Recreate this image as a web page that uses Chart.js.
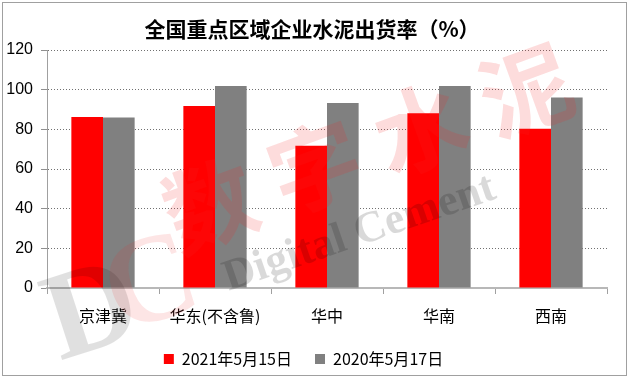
<!DOCTYPE html>
<html>
<head>
<meta charset="utf-8">
<script src="https://cdn.jsdelivr.net/npm/chart.js@4/dist/chart.umd.min.js"></script>
<style>
  html, body { margin: 0; padding: 0; background: #fff; }
  #wrap { width: 632px; height: 380px; }
</style>
</head>
<body>
<div id="wrap"><canvas id="bars" width="632" height="380"></canvas></div>
<script>
// 出货率数据 (%)
const regions = ["京津冀", "华东(不含鲁)", "华中", "华南", "西南"];
const rate2021 = [86.2, 91.8, 71.7, 88.1, 80.3];
const rate2020 = [86.0, 101.9, 93.3, 101.9, 96.0];
const seriesNames = ["2021年5月15日", "2020年5月17日"];
const yTicks = [0, 20, 40, 60, 80, 100, 120];

const cjk = "'Noto Sans CJK SC', 'Noto Sans', sans-serif";

// 标题、外框和水印
const decor = {
  id: "decor",
  beforeDraw(chart) {
    const ctx = chart.ctx;
    ctx.save();
    ctx.fillStyle = "#fff";
    ctx.fillRect(0, 0, chart.width, chart.height);
    ctx.strokeStyle = "#a0a0a0";
    ctx.lineWidth = 1;
    ctx.strokeRect(2.5, 2.5, 624, 373);
    ctx.fillStyle = "#000";
    ctx.font = "bold 21px " + cjk;
    ctx.textAlign = "center";
    ctx.textBaseline = "middle";
    ctx.fillText("全国重点区域企业水泥出货率（%）", 312, 29);
    ctx.restore();
  },
  afterDatasetsDraw(chart) {
    const ctx = chart.ctx;
    ctx.save();
    // 数字水泥
    ctx.translate(210, 205);
    ctx.rotate(-20 * Math.PI / 180);
    ctx.fillStyle = "rgba(240,40,40,0.16)";
    ctx.font = "bold 92px " + cjk;
    ctx.textAlign = "center";
    ctx.textBaseline = "middle";
    ["数", "字", "水", "泥"].forEach((c, i) => ctx.fillText(c, i * 112, 0));
    ctx.restore();

    ctx.save();
    ctx.translate(225, 280);
    ctx.rotate(-19 * Math.PI / 180);
    ctx.fillStyle = "rgba(0,0,0,0.15)";
    ctx.font = "bold 44px 'Liberation Serif', serif";
    ctx.textBaseline = "middle";
    ctx.fillText("Digital Cement", 0, 0);
    ctx.restore();

    ctx.save();
    ctx.translate(50, 330);
    ctx.rotate(-18 * Math.PI / 180);
    ctx.font = "bold 125px 'Liberation Serif', serif";
    ctx.fillStyle = "rgba(0,0,0,0.12)";
    ctx.fillText("D", 0, 0);
    ctx.fillStyle = "rgba(240,40,40,0.12)";
    ctx.fillText("C", 65, -8);
    ctx.restore();
  }
};

const barConfig = {
  type: "bar",
  data: {
    labels: regions,
    datasets: [
      {
        label: seriesNames[0],
        backgroundColor: "#ff0000",
        data: rate2021,
      },
      {
        label: seriesNames[1],
        backgroundColor: "#808080",
        data: rate2020,
      },
    ],
  },
  options: {
    responsive: false,
    animation: false,
    layout: {
      padding: { top: 50, right: 25, left: 0, bottom: 3 },
    },
    datasets: {
      bar: { categoryPercentage: 0.565, barPercentage: 1.0 },
    },
    scales: {
      x: {
        grid: {
          offset: true,
          drawOnChartArea: false,
          tickLength: 6,
          color: "#a0a0a0",
        },
        border: { color: "#b8b8b8", width: 2 },
        ticks: {
          color: "#000",
          font: { size: 16, family: cjk },
          padding: 12,
        },
        afterFit(scale) { scale.height = 40; },
      },
      y: {
        min: 0,
        max: 120,
        afterBuildTicks(scale) {
          scale.ticks = yTicks.map(v => ({ value: v }));
        },
        grid: {
          color: "#707070",
          tickLength: 6,
          tickColor: "#909090",
          tickBorderDash: [],
        },
        border: { color: "#a0a0a0", width: 1, dash: [1, 2] },
        ticks: {
          color: "#000",
          font: { size: 16, family: "'Liberation Sans', Arial, sans-serif" },
          padding: 8,
        },
        afterFit(scale) { scale.width = 47; },
      },
    },
    plugins: {
      legend: {
        position: "bottom",
        labels: {
          boxWidth: 10,
          boxHeight: 10,
          padding: 23,
          color: "#000",
          font: { size: 16, family: cjk },
        },
      },
      tooltip: { enabled: false },
      title: { display: false },
    },
  },
  plugins: [decor],
};

const barsCtx = document.getElementById("bars");
window.myBar = new Chart(barsCtx, barConfig);
</script>
</body>
</html>
